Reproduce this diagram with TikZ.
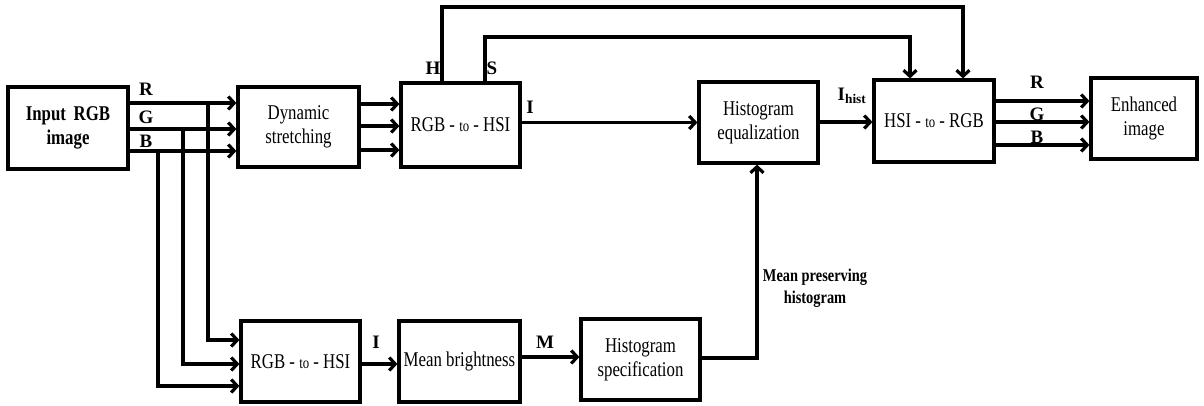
\documentclass[tikz,border=0pt]{standalone}
\usepackage{fontspec}
\setmainfont{Liberation Serif}
\newfontfamily\bx[FakeStretch=0.8]{Liberation Serif}
\usetikzlibrary{arrows.meta}
\begin{document}
\begin{tikzpicture}[x=1pt,y=-1pt,
  blk/.style={draw,line width=3.2pt,inner sep=0pt,align=center,font=\bx\fontsize{21}{24}\selectfont},
  arr/.style={line width=3.2pt,-{Straight Barb[length=6pt,width=13pt]}},
  lab/.style={font=\bfseries\fontsize{19}{21}\selectfont,inner sep=0pt}]
\useasboundingbox (0,0) rectangle (1204,405);
% blocks
\node[blk,minimum width=120pt,minimum height=82pt] (inp) at (68,128) {\textbf{Input\, RGB}\\\textbf{image}};
\node[blk,minimum width=121pt,minimum height=80pt] (dyn) at (298.5,127) {Dynamic\\stretching};
\node[blk,minimum width=119pt,minimum height=84pt] (hsi1) at (460.5,125) {RGB - {\fontsize{16}{18}\selectfont to} - HSI};
\node[blk,minimum width=119pt,minimum height=81pt] (heq) at (758.5,122.5) {Histogram\\equalization};
\node[blk,minimum width=120pt,minimum height=82pt] (rgb) at (934,121) {HSI - {\fontsize{16}{18}\selectfont to} - RGB};
\node[blk,minimum width=106pt,minimum height=81pt] (enh) at (1144,118.5) {Enhanced\\image};
\node[blk,minimum width=119pt,minimum height=81pt] (hsi2) at (300.5,361.5) {RGB - {\fontsize{16}{18}\selectfont to} - HSI};
\node[blk,minimum width=121pt,minimum height=81pt] (mb) at (459.5,361.5) {Mean brightness};
\node[blk,minimum width=119pt,minimum height=81pt] (hs) at (640.5,359.5) {Histogram\\specification};
% level coordinates
\coordinate (yR) at (0,103);
\coordinate (yG) at (0,129);
\coordinate (yB) at (0,151);
\coordinate (dR) at (208,103);
\coordinate (dG) at (183,129);
\coordinate (dB) at (158,151);
\coordinate (eR) at (0,340);
\coordinate (eG) at (0,364);
\coordinate (eB) at (0,386);
\coordinate (s1) at (0,104);
\coordinate (s2) at (0,126);
\coordinate (s3) at (0,150);
\coordinate (hA) at (442,7);
\coordinate (hB) at (963,7);
\coordinate (sA) at (485,37);
\coordinate (sB) at (910,37);
\coordinate (o1) at (0,101);
\coordinate (o2) at (0,122);
\coordinate (o3) at (0,145);
\coordinate (mY) at (0,357);
\coordinate (hY) at (0,358);
\coordinate (uX) at (757,0);
% input -> dynamic
\draw[arr] (inp.east |- yR) -- (dyn.west |- yR);
\draw[arr] (inp.east |- yG) -- (dyn.west |- yG);
\draw[arr] (inp.east |- yB) -- (dyn.west |- yB);
% drops to lower RGB-to-HSI
\draw[arr] (dR) -- (dR |- eR) -- (hsi2.west |- eR);
\draw[arr] (dG) -- (dG |- eG) -- (hsi2.west |- eG);
\draw[arr] (dB) -- (dB |- eB) -- (hsi2.west |- eB);
% dynamic -> hsi1
\draw[arr] (dyn.east |- s1) -- (hsi1.west |- s1);
\draw[arr] (dyn.east |- s2) -- (hsi1.west |- s2);
\draw[arr] (dyn.east |- s3) -- (hsi1.west |- s3);
% H and S
\draw[arr] (hsi1.north -| hA) -- (hA) -- (hB) -- (rgb.north -| hB);
\draw[arr] (hsi1.north -| sA) -- (sA) -- (sB) -- (rgb.north -| sB);
% I
\draw[arr] (hsi1.east |- heq.west) -- (heq.west);
\draw[arr] (heq.east |- o2) -- (rgb.west |- o2);
% outputs
\draw[arr] (rgb.east |- o1) -- (enh.west |- o1);
\draw[arr] (rgb.east |- o2) -- (enh.west |- o2);
\draw[arr] (rgb.east |- o3) -- (enh.west |- o3);
% lower chain
\draw[arr] (hsi2.east |- eG) -- (mb.west |- eG);
\draw[arr] (mb.east |- mY) -- (hs.west |- mY);
\draw[arr] (hs.east |- hY) -| (heq.south -| uX);
% labels
\node[lab] (lR) at (146,89) {R};
\node[lab] (lG) at (146,117) {G};
\node[lab] (lB) at (146,141) {B};
\node[lab] (lH) at (433,68) {H};
\node[lab] (lS) at (492,68) {S};
\node[lab] (lI) at (530,107) {I};
\node[lab] (lIh) at (852,96) {I\textsubscript{hist}};
\node[lab] (oR) at (1037,82) {R};
\node[lab] (oG) at (1037,114) {G};
\node[lab] (oB) at (1037,137) {B};
\node[lab] (lI2) at (376,342) {I};
\node[lab] (lM) at (545,342) {M};
\node[lab,align=center,font=\bx\bfseries\fontsize{18}{22}\selectfont] (lmp) at (815,288) {Mean preserving\\histogram};
\end{tikzpicture}
\end{document}
